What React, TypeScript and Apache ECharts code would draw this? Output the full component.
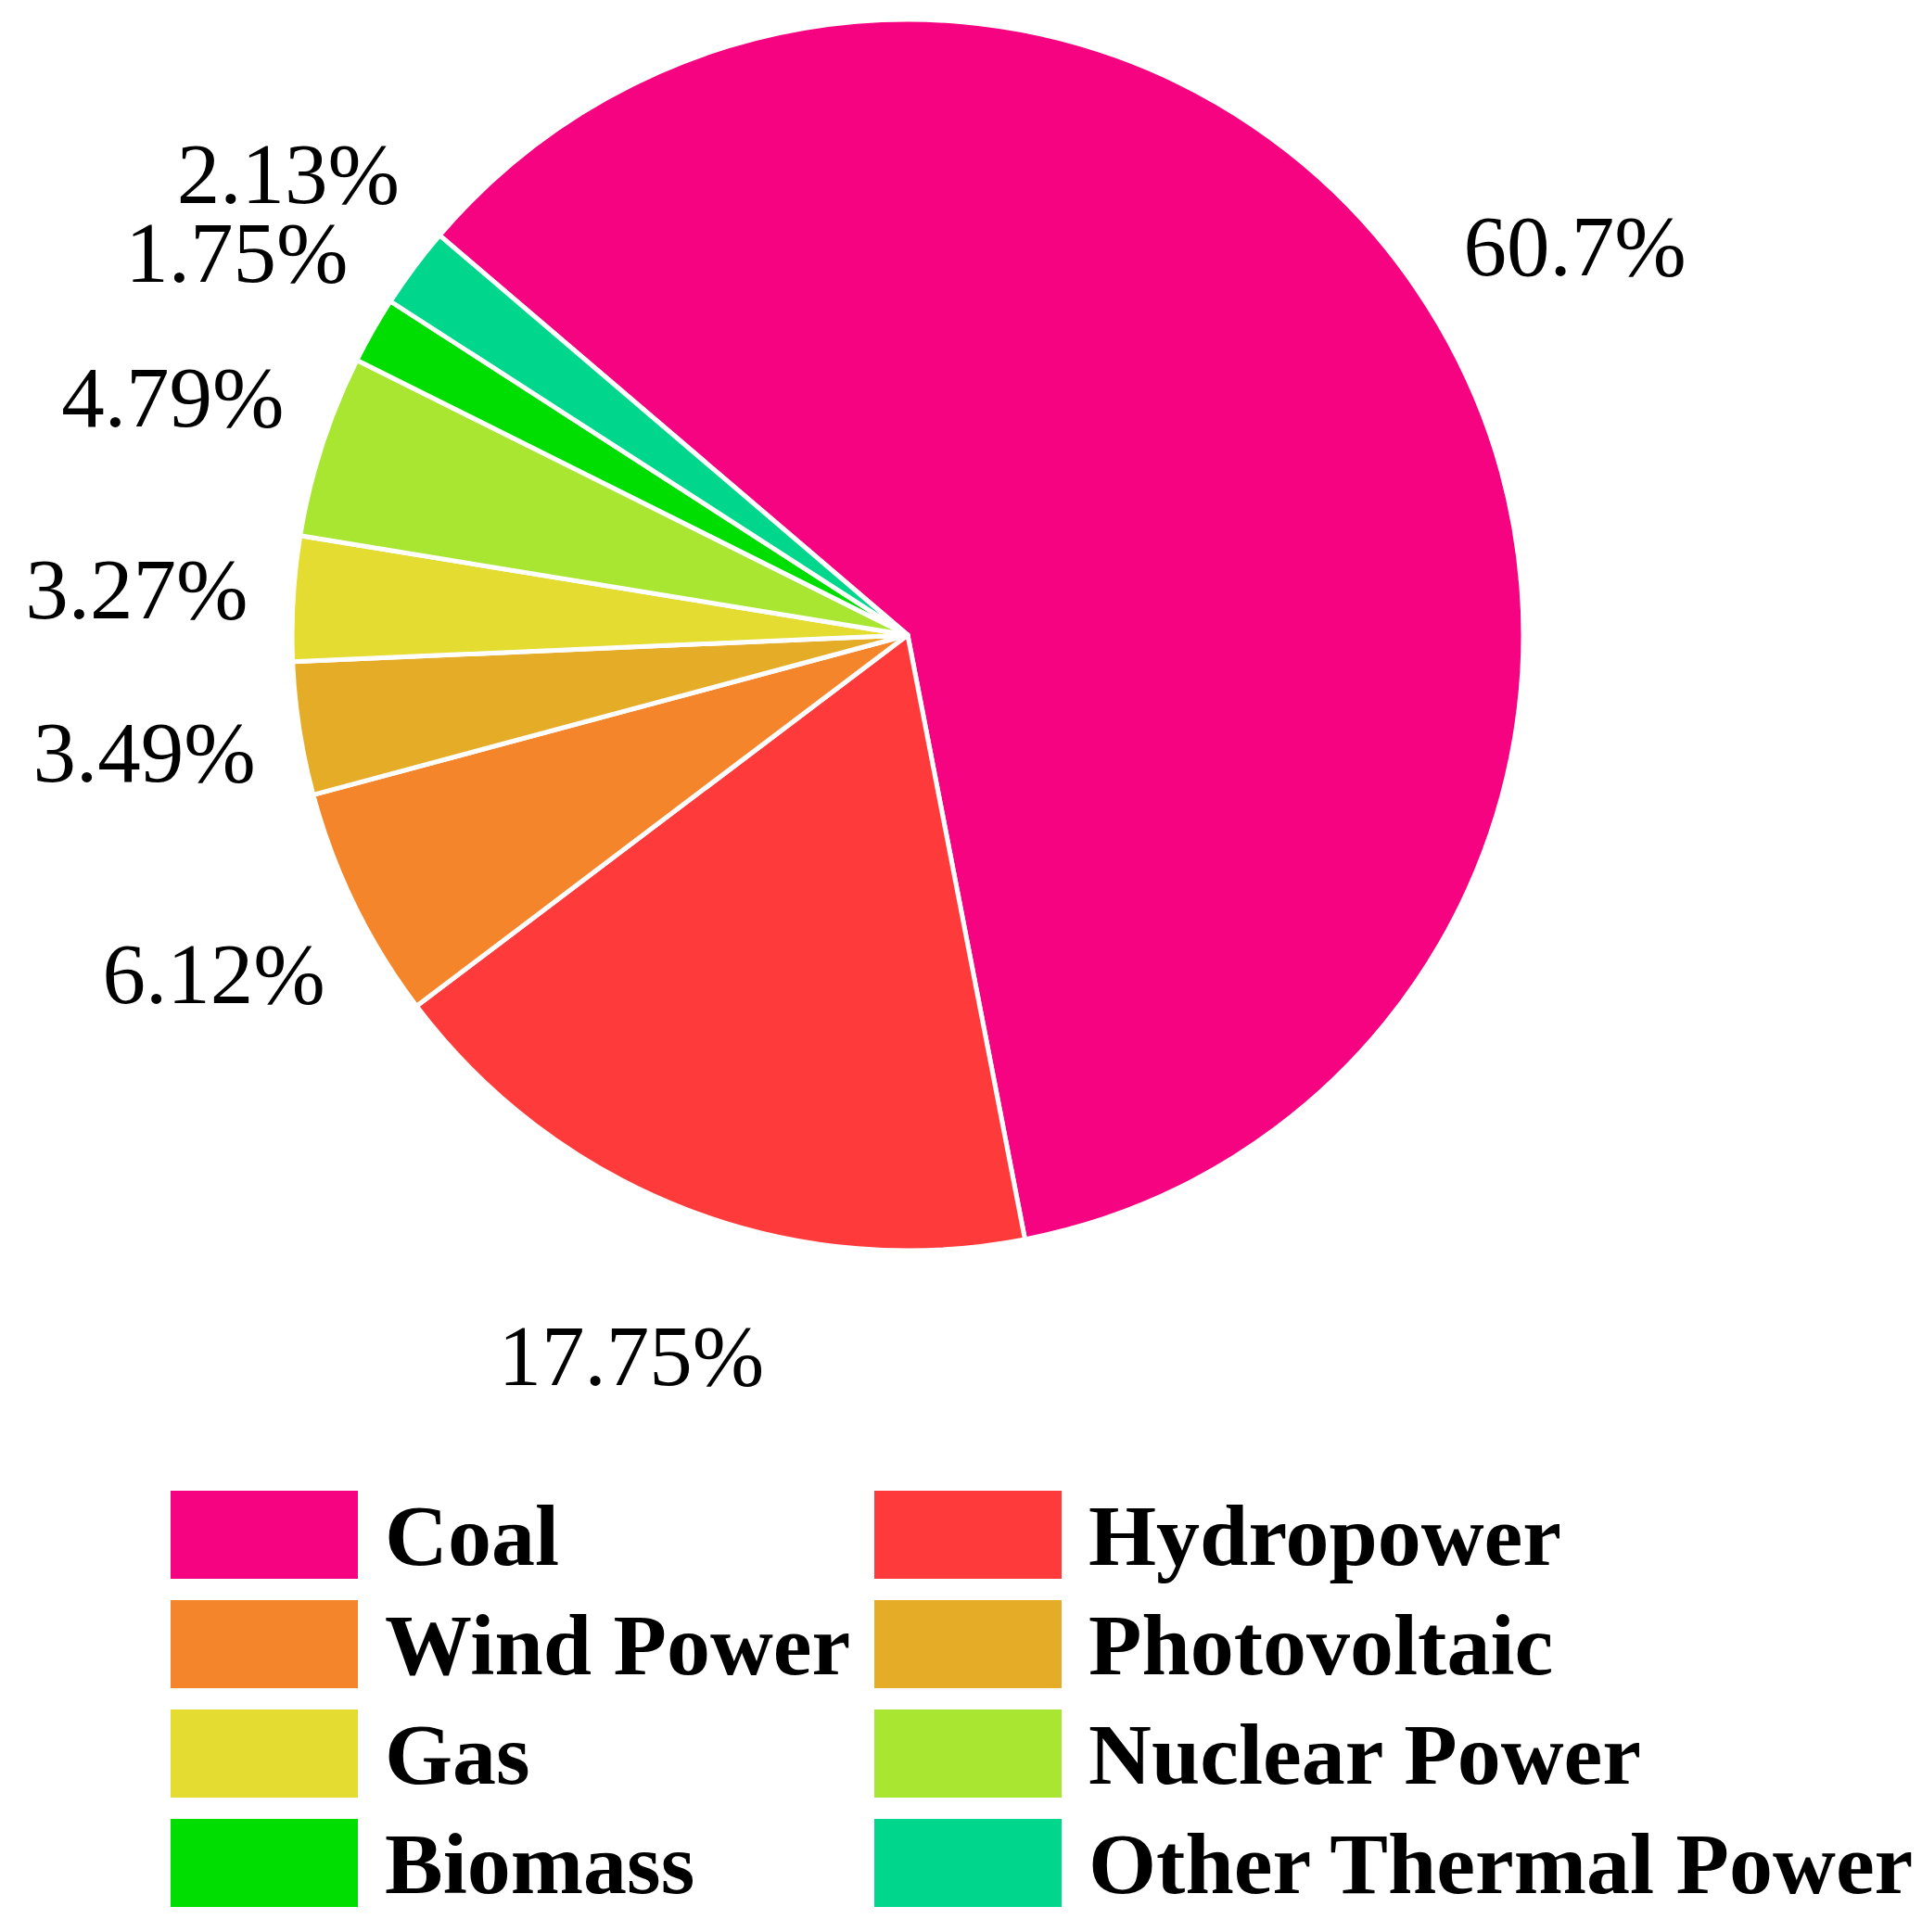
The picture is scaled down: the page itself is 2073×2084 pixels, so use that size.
import React, { useEffect, useRef } from "react";
import * as echarts from "echarts";

const categories = [
  "Coal",
  "Hydropower",
  "Wind Power",
  "Photovoltaic",
  "Gas",
  "Nuclear Power",
  "Biomass",
  "Other Thermal Power",
];
const shares = [60.7, 17.75, 6.12, 3.49, 3.27, 4.79, 1.75, 2.13];
const shareLabels = ["60.7%", "17.75%", "6.12%", "3.49%", "3.27%", "4.79%", "1.75%", "2.13%"];
const colors = [
  "#F50380",
  "#FF3A3A",
  "#F5852A",
  "#E5AC28",
  "#E5DC32",
  "#A8E632",
  "#00DD00",
  "#00D68C",
];
const legendLeftItems = ["Coal", "Wind Power", "Gas", "Biomass"];
const legendRightItems = ["Hydropower", "Photovoltaic", "Nuclear Power", "Other Thermal Power"];

const CX = 979;
const CY = 685;
const R = 664;
const START = 139.5;
const SERIF = '"Times New Roman", "Liberation Serif", serif';

export default function App() {
  const ref = useRef<HTMLDivElement>(null);
  useEffect(() => {
    document.body.style.margin = "0";
    if (!ref.current) return;
    const chart = echarts.init(ref.current, undefined, { renderer: "svg" });
    const data = categories.map((name, i) => ({
      name,
      value: shares[i],
      itemStyle: { color: colors[i] },
    }));
    const labelData = categories.map((name, i) => ({
      name,
      value: shares[i],
      label: { formatter: shareLabels[i] },
    }));
    const legendCommon = {
      orient: "vertical" as const,
      top: 1608,
      padding: 0,
      itemWidth: 202,
      itemHeight: 95,
      itemGap: 23,
      icon: "rect",
      selectedMode: false,
      itemStyle: { borderWidth: 0 },
      textStyle: {
        fontFamily: SERIF,
        fontWeight: "bold" as const,
        fontSize: 94,
        color: "#000",
        lineHeight: 95,
        padding: [0, 0, 0, 24],
      },
    };
    chart.setOption({
      animation: false,
      backgroundColor: "#ffffff",
      color: colors,
      legend: [
        { ...legendCommon, left: 184, data: legendLeftItems },
        { ...legendCommon, left: 943, data: legendRightItems },
      ],
      series: [
        {
          type: "pie",
          center: [CX, CY],
          radius: [0, R],
          startAngle: START,
          clockwise: true,
          label: { show: false },
          labelLine: { show: false },
          itemStyle: { borderColor: "#ffffff", borderWidth: 5 },
          emphasis: { disabled: true },
          data,
        },
        {
          type: "pie",
          center: [CX, CY],
          radius: [R * 1.17, R * 1.33],
          startAngle: START,
          clockwise: true,
          silent: true,
          legendHoverLink: false,
          avoidLabelOverlap: false,
          labelLayout: { hideOverlap: false },
          itemStyle: { color: "rgba(0,0,0,0)", borderWidth: 0 },
          label: {
            show: true,
            position: "inside",
            fontFamily: SERIF,
            fontSize: 93,
            lineHeight: 60,
            color: "#000",
          },
          labelLine: { show: false },
          emphasis: { disabled: true },
          data: labelData,
        },
      ],
    });
    return () => chart.dispose();
  }, []);
  return <div ref={ref} style={{ width: 2073, height: 2084 }} />;
}
